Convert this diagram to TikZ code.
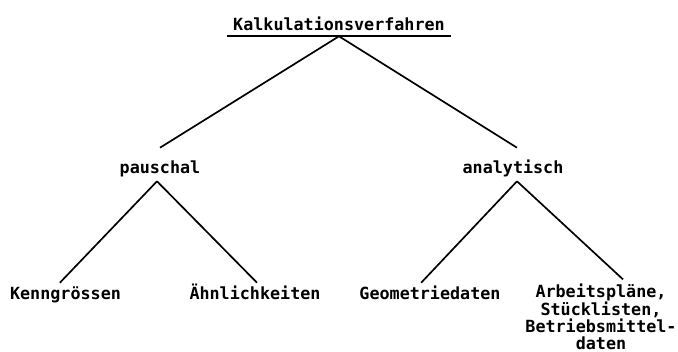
\documentclass[tikz,border=0pt]{standalone}
\usepackage{fontspec}
\setmonofont{DejaVu Sans Mono}
\usepackage{tikz}

\begin{document}
\begin{tikzpicture}[x=0.025cm, y=-0.025cm,
        txt/.style={font=\ttfamily\bfseries\fontsize{11.9}{12.4}\selectfont, anchor=base, inner xsep=0pt, inner ysep=0pt},
        mid/.style={txt, text height=0.65cm, text depth=0.175cm},
        leaf/.style={txt, text height=0.425cm},
        ast/.style={line width=1.2pt}]
        \useasboundingbox (0, 0) rectangle (678, 352);

        % top, underlined
        \node[txt, inner xsep=0.15cm, text depth=0.125cm] (kalk) at (339, 31) {Kalkulationsverfahren};
        \draw[ast] (kalk.south west) -- (kalk.south east);

        % second row
        \node[mid] (pauschal) at (160, 174) {pauschal};
        \node[mid] (analytisch) at (513, 174) {analytisch};
        % branches
        \draw[ast] (kalk.south) -- (pauschal.north);
        \draw[ast] (kalk.south) -- ([xshift=1mm]analytisch.north);

        % leaves
        \node[leaf] (kenn) at (65.5, 300) {Kenngrössen};
        \node[leaf] (aehnl) at (255, 300) {Ähnlichkeiten};
        \node[leaf] (geom) at (430, 300) {Geometriedaten};
        % base sits on the last line here
        \node[txt, align=center] (arbeit) at (601, 350) {Arbeitspläne,\\Stücklisten,\\Betriebsmittel-\\daten};

        % branches below pauschal
        \draw[ast] ([xshift=-0.75mm]pauschal.south) -- ([xshift=-1.4mm]kenn.north);
        \draw[ast] ([xshift=-0.75mm]pauschal.south) -- ([xshift=0.5mm]aehnl.north);
        % branches below analytisch
        \draw[ast] ([xshift=1mm]analytisch.south) -- ([xshift=-2.2mm]geom.north);
        \draw[ast] ([xshift=1mm]analytisch.south) -- ([xshift=5.5mm, yshift=1.1mm]arbeit.north);
\end{tikzpicture}
\end{document}
